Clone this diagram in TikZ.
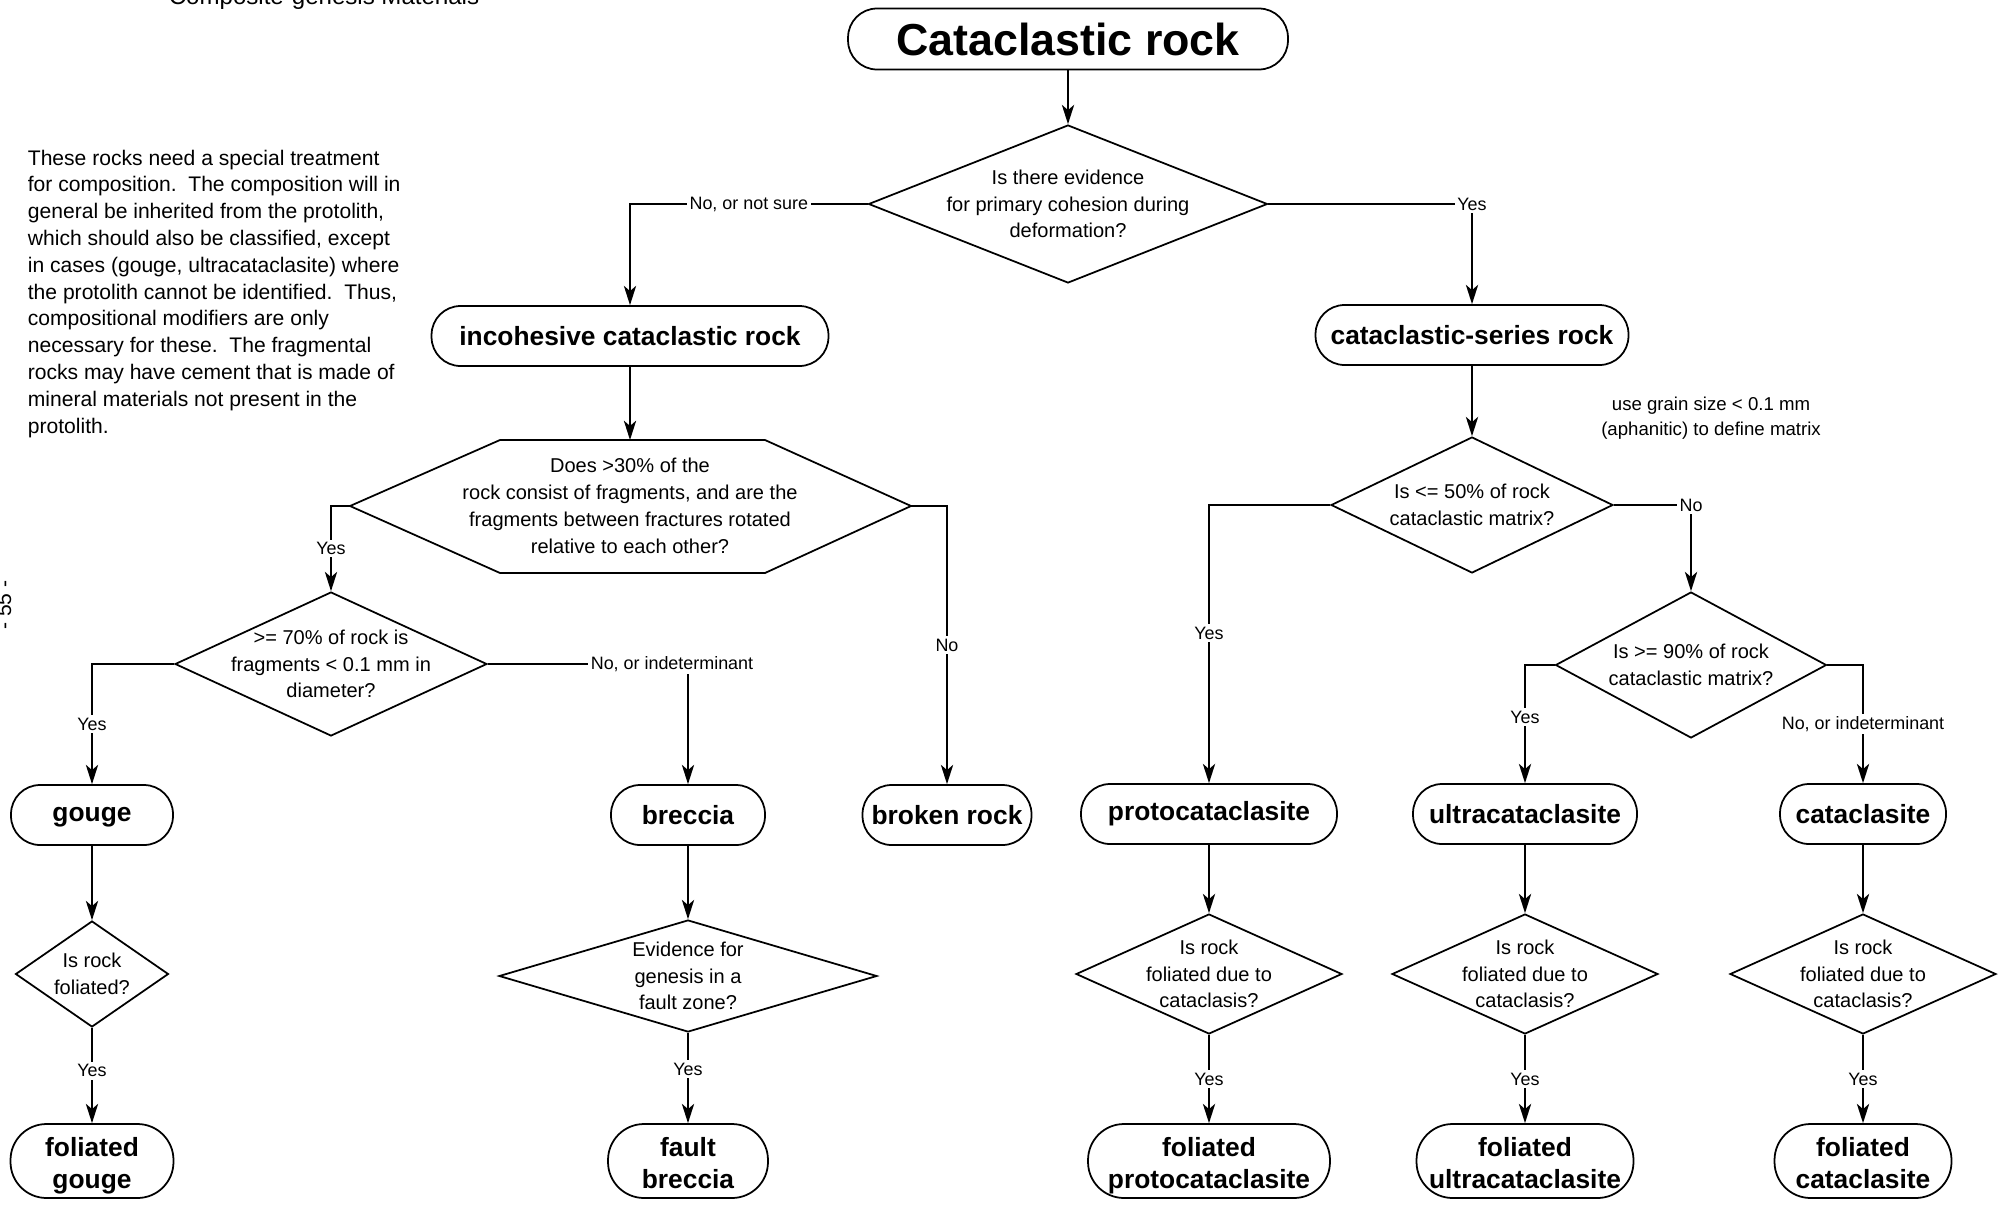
\documentclass[tikz,border=0pt]{standalone}
\usepackage{fontspec}
\setmainfont{Liberation Sans}
\usetikzlibrary{shapes.geometric, arrows.meta}

\begin{document}
\begin{tikzpicture}[x=0.02cm, y=-0.02cm, line width=1pt, >={Stealth[length=11pt, width=7pt, inset=3pt]},
	rockbox/.style={draw, rectangle, rounded corners=0.58cm, minimum height=1.2cm, inner sep=0pt, align=center, font=\bfseries\fontsize{15pt}{18.2pt}\selectfont},
	rockbox2/.style={rockbox, rounded corners=0.72cm, minimum height=1.48cm, execute at begin node={\rule{0pt}{2.41em}}, execute at end node={\rule[-0.3em]{0pt}{0.3em}}},
	ask/.style={draw, diamond, inner sep=-1cm, align=center, font=\fontsize{11.4pt}{15.1pt}\selectfont},
	lbl/.style={fill=white, inner sep=1.5pt, font=\fontsize{10.2pt}{12pt}\selectfont},
	remark/.style={inner sep=0pt, font=\fontsize{12pt}{15.25pt}\selectfont}]
	\useasboundingbox (0,0) rectangle (1998,1207);

	% page furniture
	\node[inner sep=0pt, anchor=base, font=\fontsize{13.7pt}{16pt}\selectfont] (heading) at (324,4) {Composite-genesis Materials};
	\node[inner sep=0pt, rotate=90, font=\fontsize{12pt}{14pt}\selectfont] (pageno) at (4,605) {- 55 -};
	\node[remark, anchor=north west, align=left] (treatment) at (27,149) {These rocks need a special treatment\\for composition.\ \ The composition will in\\general be inherited from the protolith,\\which should also be classified, except\\in cases (gouge, ultracataclasite) where\\the protolith cannot be identified.\ \ Thus,\\compositional modifiers are only\\necessary for these.\ \ The fragmental\\rocks may have cement that is made of\\mineral materials not present in the\\protolith.};

	% top of the key
	\node[rockbox, minimum width=8.8cm, minimum height=1.22cm, font=\bfseries\fontsize{25.5pt}{30pt}\selectfont] (rock) at (1068,39) {Cataclastic rock};
	\node[ask, minimum width=7.98cm, minimum height=3.16cm] (cohesion) at (1068,204) {Is there evidence\\for primary cohesion during\\deformation?};
	\node[rockbox, minimum width=7.94cm] (incoh) at (630,336) {incohesive cataclastic rock};
	\node[rockbox, minimum width=6.26cm] (series) at (1472,335) {cataclastic-series rock};

	% incohesive branch
	\node[inner sep=0pt, align=center, font=\fontsize{11.4pt}{15.25pt}\selectfont] (frag) at (630,506) {Does >30\% of the\\rock consist of fragments, and are the\\fragments between fractures rotated\\relative to each other?};
	\draw (frag.center) ++(-280,0) coordinate (fragW) -- ++(150,-66) -- ++(265,0) -- ++(146,66) coordinate (fragE) -- ++(-146,67) -- ++(-265,0) -- cycle;
	\coordinate (fragN) at (630,440);
	\node[ask, minimum width=6.24cm, minimum height=2.88cm] (fine) at (331,664) {>= 70\% of rock is\\fragments < 0.1 mm in\\diameter?};
	\node[rockbox, minimum width=3.24cm, text height=11pt] (gouge) at (92,815) {gouge};
	\node[ask, minimum width=3.06cm, minimum height=2.12cm] (gfol) at (92,974) {Is rock\\foliated?};
	\node[rockbox2, minimum width=3.26cm] (fgouge) at (92,1161) {foliated\\gouge};
	\node[rockbox, minimum width=3.08cm] (breccia) at (688,815) {breccia};
	\node[ask, minimum width=7.56cm, minimum height=2.24cm] (fzone) at (688,976) {Evidence for\\genesis in a\\fault zone?};
	\node[rockbox2, minimum width=3.2cm] (fbreccia) at (688,1161) {fault\\breccia};
	\node[rockbox, minimum width=3.38cm] (broken) at (947,815) {broken rock};

	% cataclastic-series branch
	\node[ask, minimum width=5.64cm, minimum height=2.72cm] (m50) at (1472,505) {Is <= 50\% of rock\\cataclastic matrix?};
	\node[inner sep=0pt, align=center, font=\fontsize{10.6pt}{14.5pt}\selectfont] (grain) at (1711,418) {use grain size < 0.1 mm\\(aphanitic) to define matrix};
	\node[ask, minimum width=5.42cm, minimum height=2.92cm] (m90) at (1691,665) {Is >= 90\% of rock\\cataclastic matrix?};
	\node[rockbox, minimum width=5.12cm] (proto) at (1209,814) {protocataclasite};
	\node[rockbox, minimum width=4.48cm] (ultra) at (1525,814) {ultracataclasite};
	\node[rockbox, minimum width=3.32cm] (cata) at (1863,814) {cataclasite};
	\node[ask, minimum width=5.32cm, minimum height=2.4cm] (pfol) at (1209,974) {Is rock\\foliated due to\\cataclasis?};
	\node[ask, minimum width=5.32cm, minimum height=2.4cm] (ufol) at (1525,974) {Is rock\\foliated due to\\cataclasis?};
	\node[ask, minimum width=5.32cm, minimum height=2.4cm] (cfol) at (1863,974) {Is rock\\foliated due to\\cataclasis?};
	\node[rockbox2, minimum width=4.84cm] (fproto) at (1209,1161) {foliated\\protocataclasite};
	\node[rockbox2, minimum width=4.34cm] (fultra) at (1525,1161) {foliated\\ultracataclasite};
	\node[rockbox2, minimum width=3.54cm] (fcata) at (1863,1161) {foliated\\cataclasite};

	% connectors
	\draw[->] (rock) -- (cohesion);
	\draw[->] (cohesion.west) -| (incoh.north) node[lbl, pos=0.25] {No, or not sure};
	\draw[->] (cohesion.east) -| (series.north) node[lbl, pos=0.5] {Yes};
	\draw[->] (incoh.south) -- (fragN);
	\draw[->] (fragW) -| (fine.north) node[lbl, pos=0.75] {Yes};
	\draw[->] (fragE) -| (broken.north) node[lbl, pos=0.75] {No};
	\draw[->] (fine.west) -| (gouge.north) node[lbl, pos=0.75] {Yes};
	\draw[->] (fine.east) -| (breccia.north) node[lbl, pos=0.46] {No, or indeterminant};
	\draw[->] (gouge) -- (gfol);
	\draw[->] (gfol) -- (fgouge) node[lbl, pos=0.45] {Yes};
	\draw[->] (breccia) -- (fzone);
	\draw[->] (fzone) -- (fbreccia) node[lbl, pos=0.4] {Yes};

	\draw[->] (series) -- (m50);
	\draw[->] (m50.west) -| (proto.north) node[lbl, pos=0.73] {Yes};
	\draw[->] (m50.east) -| (m90.north) node[lbl, pos=0.5] {No};
	\draw[->] (m90.west) -| (ultra.north) node[lbl, pos=0.72] {Yes};
	\draw[->] (m90.east) -| (cata.north) node[lbl, pos=0.75] {No, or indeterminant};
	\draw[->] (proto) -- (pfol);
	\draw[->] (ultra) -- (ufol);
	\draw[->] (cata) -- (cfol);
	\draw[->] (pfol) -- (fproto) node[lbl, midway] {Yes};
	\draw[->] (ufol) -- (fultra) node[lbl, midway] {Yes};
	\draw[->] (cfol) -- (fcata) node[lbl, midway] {Yes};
\end{tikzpicture}
\end{document}
